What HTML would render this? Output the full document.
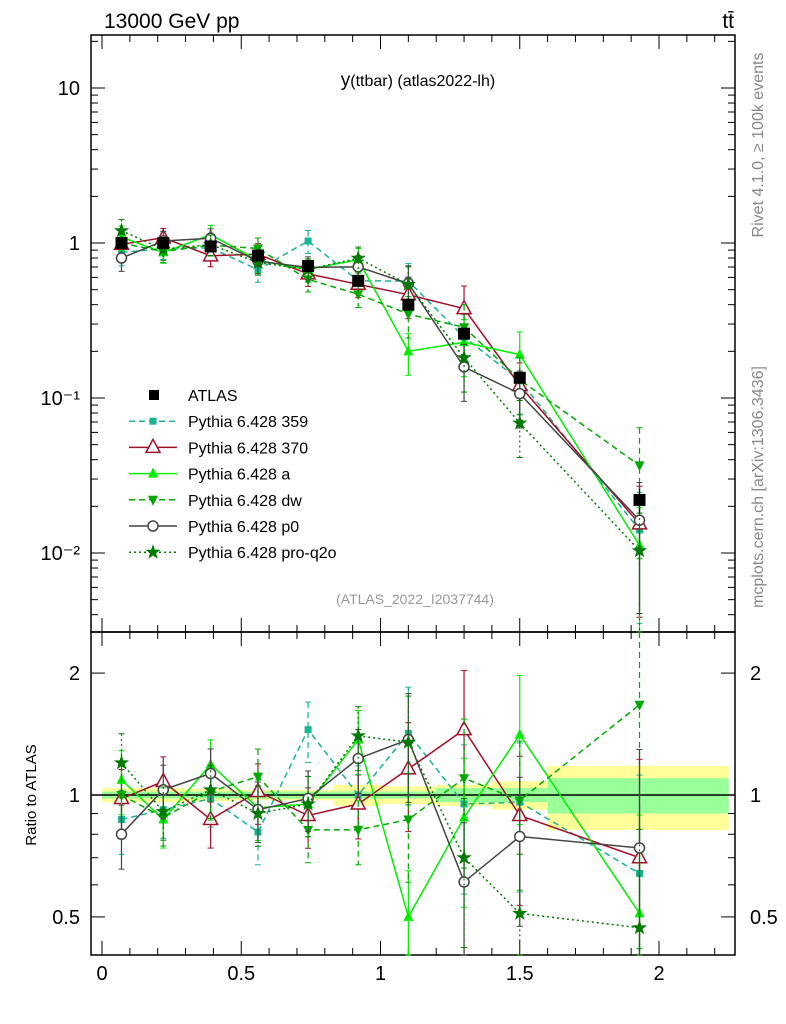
<!DOCTYPE html>
<html><head><meta charset="utf-8"><style>
html,body{margin:0;padding:0;background:#fff;}
svg{display:block;font-family:"Liberation Sans",sans-serif;}
</style></head><body>
<svg id="c" width="786" height="1024" viewBox="0 0 786 1024">
<rect x="0" y="0" width="786" height="1024" fill="#fff"/>
<g id="bands"></g>
<g id="axes"></g>
<g id="series"></g>
<text x="104" y="28" font-size="21">13000 GeV pp</text>
<text x="734" y="28" font-size="21" text-anchor="end">tt̄</text>
<text x="418" y="86" font-size="19" text-anchor="middle">y<tspan font-size="16">(ttbar) (atlas2022-lh)</tspan></text>
<text x="415" y="604" font-size="14" fill="#999" text-anchor="middle">(ATLAS_2022_I2037744)</text>
<text transform="translate(763,145) rotate(-90)" font-size="16" fill="#888" text-anchor="middle">Rivet 4.1.0, ≥ 100k events</text>
<text transform="translate(763,487) rotate(-90)" font-size="16" fill="#888" text-anchor="middle">mcplots.cern.ch [arXiv:1306.3436]</text>
<text transform="translate(36,795) rotate(-90)" font-size="15" text-anchor="middle">Ratio to ATLAS</text>
<g id="legend"></g>
</svg>
<script>
const binEdges=[0,0.15,0.3,0.475,0.65,0.83,1.0,1.2,1.4,1.6,2.25];
const xPoints=[0.07,0.22,0.39,0.56,0.74,0.92,1.1,1.3,1.5,1.93];
const atlasValues=[1.0,1.0,0.95,0.83,0.71,0.57,0.40,0.26,0.135,0.022];
const atlasStatRel=[0.02,0.02,0.02,0.02,0.02,0.02,0.02,0.04,0.04,0.1];
const atlasTotRel=[0.04,0.04,0.035,0.03,0.03,0.06,0.05,0.06,0.08,0.18];
const ratio359=[0.87,0.92,0.98,0.81,1.45,1.0,1.42,0.95,0.96,0.64];
const ratio370=[0.98,1.08,0.87,1.02,0.89,0.95,1.16,1.45,0.89,0.70];
const ratioA=[1.09,0.87,1.19,0.93,0.95,1.37,0.50,0.88,1.41,0.51];
const ratioDw=[1.0,0.88,1.02,1.11,0.82,0.82,0.87,1.1,0.97,1.67];
const ratioP0=[0.80,1.03,1.13,0.92,0.98,1.23,1.37,0.61,0.79,0.74];
const ratioQ2o=[1.20,0.91,1.03,0.90,0.95,1.40,1.35,0.70,0.51,0.47];
const mcErrRel=[0.18,0.15,0.15,0.17,0.17,0.18,0.3,0.4,0.4,0.75];
const yTickLabels=["10⁻²","10⁻¹","1","10"];
const xTickLabels=["0","0.5","1","1.5","2"];
const rTickLabels=["0.5","1","2"];

const NS="http://www.w3.org/2000/svg";
const X0=91,X1=735,MT=35,MB=632,RT=632,RB=955;
const sx=v=>102+v*278.5;
const sy=v=>243-155*Math.log10(v);
const sr=v=>795-405*Math.log10(v);
function mk(t,a,p){const e=document.createElementNS(NS,t);for(const k in a)e.setAttribute(k,a[k]);p.appendChild(e);return e;}
const axes=document.getElementById('axes'),ser=document.getElementById('series'),bands=document.getElementById('bands'),leg=document.getElementById('legend');

for(let i=0;i<atlasValues.length;i++){
  const xa=sx(binEdges[i]),xb=sx(binEdges[i+1]);
  const y=mk('rect',{x:xa,y:sr(1+atlasTotRel[i]),width:xb-xa,height:sr(1-atlasTotRel[i])-sr(1+atlasTotRel[i]),fill:'#ffff99'},bands);
  
  
  const g=mk('rect',{x:xa,y:sr(1+atlasStatRel[i]),width:xb-xa,height:sr(1-atlasStatRel[i])-sr(1+atlasStatRel[i]),fill:'#99ff99'},bands);
  
  
}
mk('rect',{x:X0,y:MT,width:X1-X0,height:MB-MT,fill:'none',stroke:'#000','stroke-width':1.5},axes);
mk('rect',{x:X0,y:RT,width:X1-X0,height:RB-RT,fill:'none',stroke:'#000','stroke-width':1.5},axes);
mk('line',{x1:X0,x2:X1,y1:sr(1),y2:sr(1),stroke:'#000','stroke-width':1.5},axes);
for(let d=-3;d<=1;d++){for(let m=1;m<10;m++){const v=m*Math.pow(10,d);const y=sy(v);if(y<MT||y>MB)continue;const L=m==1?14:7;
 mk('line',{x1:X0,x2:X0+L,y1:y,y2:y,stroke:'#000'},axes);mk('line',{x1:X1,x2:X1-L,y1:y,y2:y,stroke:'#000'},axes);}}
[0.01,0.1,1,10].forEach((v,i)=>{const t=mk('text',{x:80,y:sy(v)+7,'font-size':20,'text-anchor':'end'},axes);t.textContent=yTickLabels[i];
 });
[0.4,0.5,0.6,0.7,0.8,0.9,1,2].forEach(v=>{const y=sr(v);if(y<RT||y>RB)return;const L=(v==0.5||v==1||v==2)?14:7;
 mk('line',{x1:X0,x2:X0+L,y1:y,y2:y,stroke:'#000'},axes);mk('line',{x1:X1,x2:X1-L,y1:y,y2:y,stroke:'#000'},axes);});
[0.5,1,2].forEach((v,i)=>{[80,750].forEach(xx=>{const t=mk('text',{x:xx,y:sr(v)+7,'font-size':20,'text-anchor':xx<100?'end':'start'},axes);t.textContent=rTickLabels[i];
 });});
for(let k=0;k<=22;k++){const v=k*0.1;const x=sx(v);if(x>X1)break;const L=k%5==0?14:7;
 mk('line',{x1:x,x2:x,y1:RB,y2:RB-L,stroke:'#000'},axes);mk('line',{x1:x,x2:x,y1:MB,y2:MB-L,stroke:'#000'},axes);
 mk('line',{x1:x,x2:x,y1:MT,y2:MT+L,stroke:'#000'},axes);mk('line',{x1:x,x2:x,y1:RT,y2:RT+L,stroke:'#000'},axes);}
[0,0.5,1,1.5,2].forEach((v,i)=>{const t=mk('text',{x:sx(v),y:980,'font-size':20,'text-anchor':'middle'},axes);t.textContent=xTickLabels[i];
 });

function marker(g,type,x,y,c){
 if(type=='sq')mk('rect',{x:x-3.5,y:y-3.5,width:7,height:7,fill:c},g);
 else if(type=='bsq')mk('rect',{x:x-6,y:y-6,width:12,height:12,fill:c},g);
 else if(type=='otri')mk('polygon',{points:`${x},${y-8} ${x-7},${y+5} ${x+7},${y+5}`,fill:'#fff',stroke:c,'stroke-width':1.5},g);
 else if(type=='tri')mk('polygon',{points:`${x},${y-6} ${x-5},${y+4} ${x+5},${y+4}`,fill:c},g);
 else if(type=='dtri')mk('polygon',{points:`${x},${y+6} ${x-5},${y-4} ${x+5},${y-4}`,fill:c},g);
 else if(type=='circ')mk('circle',{cx:x,cy:y,r:5,fill:'#fff',stroke:c,'stroke-width':1.5},g);
 else if(type=='star'){let p=[];for(let k=0;k<10;k++){const r=k%2?2.6:6.5,a=-Math.PI/2+k*Math.PI/5;p.push((x+r*Math.cos(a)).toFixed(1)+','+(y+r*Math.sin(a)).toFixed(1));}
  mk('polygon',{points:p.join(' '),fill:c,stroke:c},g);}
}
const models=[
 {name:'pythia-359',label:'Pythia 6.428 359',r:ratio359,c:'#1ab394',dash:'6,4',m:'sq'},
 {name:'pythia-370',label:'Pythia 6.428 370',r:ratio370,c:'#a0102a',dash:'',m:'otri'},
 {name:'pythia-a',label:'Pythia 6.428 a',r:ratioA,c:'#00ee00',dash:'',m:'tri'},
 {name:'pythia-dw',label:'Pythia 6.428 dw',r:ratioDw,c:'#00a800',dash:'6,4',m:'dtri'},
 {name:'pythia-p0',label:'Pythia 6.428 p0',r:ratioP0,c:'#444444',dash:'',m:'circ'},
 {name:'pythia-pro-q2o',label:'Pythia 6.428 pro-q2o',r:ratioQ2o,c:'#007a00',dash:'2,3',m:'star'}];
function clipY(y,t,b){return Math.max(t,Math.min(b,y));}
models.forEach(md=>{
 [['main',v=>sy(v),MT,MB],['ratio',v=>sr(v),RT,RB]].forEach(([pn,f,t,b])=>{
  const g=mk('g',{},ser);
  
  
  const vals=md.r.map((r,i)=>pn=='main'?r*atlasValues[i]:r);
  const pts=vals.map((v,i)=>sx(xPoints[i]).toFixed(1)+','+clipY(f(v),t,b).toFixed(1)).join(' ');
  mk('polyline',{points:pts,fill:'none',stroke:md.c,'stroke-width':1.5,'stroke-dasharray':md.dash},g);
  vals.forEach((v,i)=>{const x=sx(xPoints[i]);const e=mcErrRel[i];
   const ya=clipY(f(v*(1+e)),t,b),yb=clipY(f(Math.max(v*(1-e),1e-4)),t,b);
   mk('line',{x1:x,x2:x,y1:ya,y2:yb,stroke:md.c,'stroke-width':1.2,'stroke-dasharray':md.dash},g);
   mk('line',{x1:x-3,x2:x+3,y1:ya,y2:ya,stroke:md.c},g);mk('line',{x1:x-3,x2:x+3,y1:yb,y2:yb,stroke:md.c},g);
   const y=f(v);if(y>=t&&y<=b)marker(g,md.m,x,y,md.c);});
 });
});
const dg=mk('g',{},ser);


atlasValues.forEach((v,i)=>{const x=sx(xPoints[i]);const e=atlasTotRel[i];
 mk('line',{x1:x,x2:x,y1:sy(v*(1+e)),y2:sy(v*(1-e)),stroke:'#000'},dg);marker(dg,'bsq',x,sy(v),'#000');});
const rows=[{label:'ATLAS',m:'bsq',c:'#000',dash:null}].concat(models);
rows.forEach((r,i)=>{const y=395+i*26.2;const g=mk('g',{},leg);
 
 
 if(r.dash!==null)mk('line',{x1:129,x2:177,y1:y,y2:y,stroke:r.c,'stroke-width':1.5,'stroke-dasharray':r.dash},g);
 if(r.m=='bsq')mk('rect',{x:149,y:y-5,width:10,height:10,fill:'#000'},g);else marker(g,r.m,153,y,r.c);
 const t=mk('text',{x:188,y:y+6,'font-size':16},g);t.textContent=r.label;});
</script>
</body></html>
